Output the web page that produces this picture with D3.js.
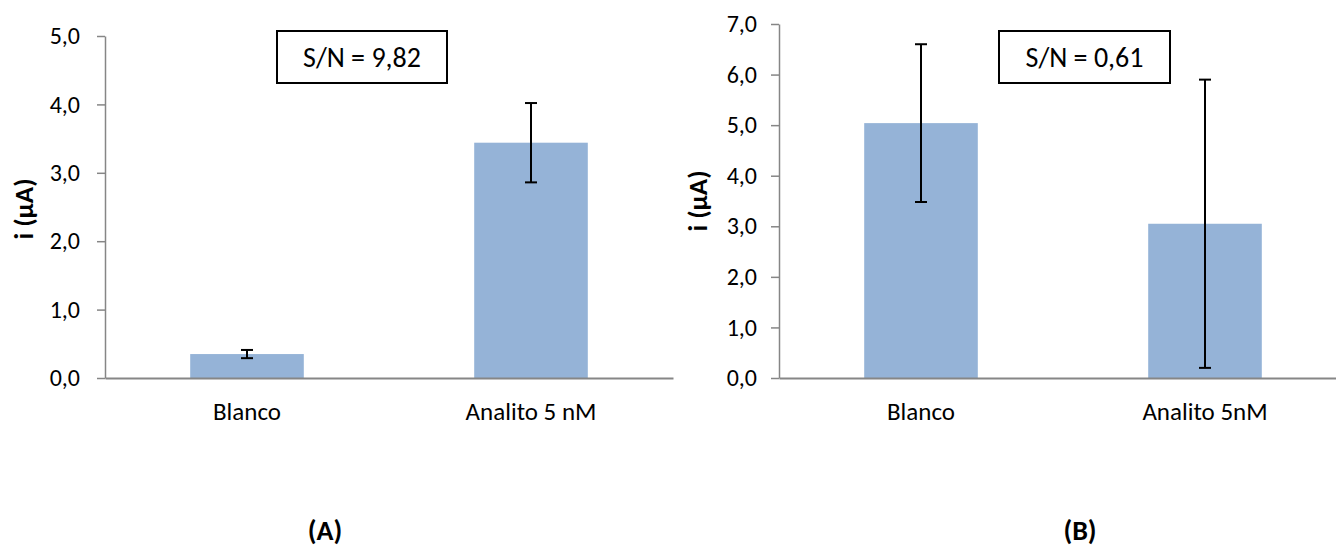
<!DOCTYPE html>
<html>
<head>
<meta charset="utf-8">
<script src="https://cdn.jsdelivr.net/npm/d3@7"></script>
<style>
  body { margin: 0; background: #fff; }
  text { font-family: Calibri, Carlito, Lato, sans-serif; fill: #000; }
</style>
</head>
<body>
<div id="chart"></div>
<script>
// data
var categoriesA = ["Blanco", "Analito 5 nM"];
var valuesA = [0.35, 3.44];
var errorsA = [0.06, 0.58];
var yTicksA = [0, 1, 2, 3, 4, 5];
var noteA = "S/N = 9,82";

var categoriesB = ["Blanco", "Analito 5nM"];
var valuesB = [5.04, 3.05];
var errorsB = [1.56, 2.85];
var yTicksB = [0, 1, 2, 3, 4, 5, 6, 7];
var noteB = "S/N = 0,61";

var w = 1336;
var h = 547;
var barColor = "#95b3d7";
var axisColor = "#868686";

var comma = d3.formatLocale({decimal: ",", thousands: ".", grouping: [3], currency: ["", ""]});
var fmt = comma.format(".1f");

var svg = d3.select("#chart")
			.append("svg")
			.attr("width", w)
			.attr("height", h);

function drawPanel(opt) {
	var g = svg.append("g");

	var x = d3.scaleBand()
		.domain(opt.categories)
		.range([opt.x0, opt.x1])
		.paddingInner(0)
		.paddingOuter(0);

	var y = d3.scaleLinear()
		.domain([0, d3.max(opt.ticks)])
		.range([378, opt.yTop]);

	var barW = x.bandwidth() * 0.4;
	var data = opt.categories.map(function(c, i) {
		return {cat: c, v: opt.values[i], e: opt.errors[i]};
	});

	// bars
	g.selectAll("rect.bar")
	   .data(data)
	   .enter()
	   .append("rect")
	   .attr("class", "bar")
	   .attr("x", function(d) { return x(d.cat) + (x.bandwidth() - barW) / 2; })
	   .attr("y", function(d) { return y(d.v); })
	   .attr("width", barW)
	   .attr("height", function(d) { return y(0) - y(d.v); })
	   .attr("fill", barColor);

	// y axis
	var yAxis = g.append("g")
		.attr("transform", "translate(" + opt.x0 + ",0)")
		.call(d3.axisLeft(y)
			.tickValues(opt.ticks)
			.tickFormat(fmt)
			.tickSize(8)
			.tickSizeOuter(0)
			.tickPadding(opt.tickPad));
	yAxis.selectAll("text")
		.attr("font-size", "24px")
		.attr("font-family", null);
	yAxis.selectAll("line").attr("stroke", axisColor).attr("stroke-width", 1.5);
	yAxis.select(".domain").attr("stroke", axisColor).attr("stroke-width", 1.5);

	// x axis
	var xAxis = g.append("g")
		.attr("transform", "translate(0," + y(0) + ")")
		.call(d3.axisBottom(x)
			.tickSize(0)
			.tickSizeOuter(0)
			.tickPadding(24));
	xAxis.selectAll("text")
		.attr("font-size", "25px")
		.attr("font-family", null);
	xAxis.select(".domain").attr("stroke", axisColor).attr("stroke-width", 2);

	// error bars
	var cap = 6;
	var eb = g.selectAll("g.err")
		.data(data)
		.enter()
		.append("g")
		.attr("class", "err")
		.attr("stroke", "#000")
		.attr("stroke-width", 2);
	eb.append("line")
		.attr("x1", function(d) { return x(d.cat) + x.bandwidth() / 2; })
		.attr("x2", function(d) { return x(d.cat) + x.bandwidth() / 2; })
		.attr("y1", function(d) { return y(d.v + d.e); })
		.attr("y2", function(d) { return y(d.v - d.e); });
	eb.append("line")
		.attr("x1", function(d) { return x(d.cat) + x.bandwidth() / 2 - cap; })
		.attr("x2", function(d) { return x(d.cat) + x.bandwidth() / 2 + cap; })
		.attr("y1", function(d) { return y(d.v + d.e); })
		.attr("y2", function(d) { return y(d.v + d.e); });
	eb.append("line")
		.attr("x1", function(d) { return x(d.cat) + x.bandwidth() / 2 - cap; })
		.attr("x2", function(d) { return x(d.cat) + x.bandwidth() / 2 + cap; })
		.attr("y1", function(d) { return y(d.v - d.e); })
		.attr("y2", function(d) { return y(d.v - d.e); });

	// y label
	g.append("text")
		.attr("transform", "translate(" + opt.labelX + "," + opt.labelY + ") rotate(-90)")
		.attr("text-anchor", "middle")
		.attr("dy", "0.35em")
		.attr("font-size", "27px")
		.attr("font-weight", "bold")
		.text("i (\u00b5A)");

	// S/N box
	g.append("rect")
		.attr("x", opt.boxX)
		.attr("y", 31)
		.attr("width", opt.boxW)
		.attr("height", 52)
		.attr("fill", "#fff")
		.attr("stroke", "#000")
		.attr("stroke-width", 2);
	g.append("text")
		.attr("x", opt.boxX + opt.boxW / 2)
		.attr("y", 57)
		.attr("dy", "0.35em")
		.attr("text-anchor", "middle")
		.attr("font-size", "28px")
		.text(opt.note);

	// panel letter
	g.append("text")
		.attr("x", opt.letterX)
		.attr("y", 540)
		.attr("text-anchor", "middle")
		.attr("font-size", "28px")
		.attr("font-weight", "bold")
		.text(opt.letter);
}

drawPanel({
	categories: categoriesA, values: valuesA, errors: errorsA, ticks: yTicksA,
	x0: 105, x1: 673, yTop: 36, tickPad: 17,
	labelX: 24, labelY: 209, boxX: 277, boxW: 170, note: noteA,
	letterX: 325, letter: "(A)"
});

drawPanel({
	categories: categoriesB, values: valuesB, errors: errorsB, ticks: yTicksB,
	x0: 779, x1: 1347, yTop: 24, tickPad: 14,
	labelX: 698, labelY: 201, boxX: 999, boxW: 171, note: noteB,
	letterX: 1080, letter: "(B)"
});
</script>
</body>
</html>
